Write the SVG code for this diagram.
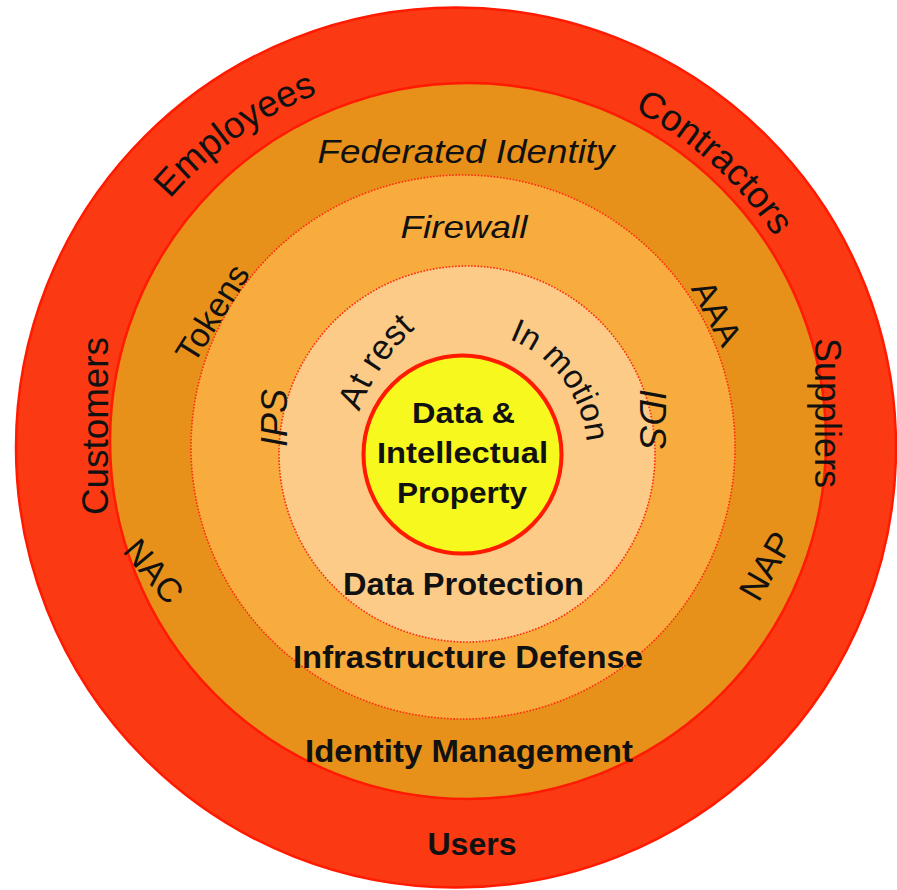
<svg xmlns="http://www.w3.org/2000/svg" width="897" height="890" viewBox="0 0 897 890">
  <style>
    text { font-family: "Liberation Sans", Arial, Helvetica, sans-serif; fill: #111; }
    .b { font-weight: bold; }
    .i { font-style: italic; }
    .solid { stroke: #FF1A00; stroke-width: 2.5; }
    .dotted { stroke: #FF2A10; stroke-width: 1.6; stroke-dasharray: 1.6 1.6; }
  </style>
  <defs>
    <!-- baselines for the curved labels -->
    <path id="arc-employees" d="M 90.1 351.8 A 380 380 0 0 1 487.8 68.2"/>
    <path id="arc-contractors" d="M 471.3 67.2 A 380 380 0 0 1 834.3 394.1"/>
    <path id="arc-atrest" d="M 348.3 464.5 A 200 200 0 0 1 460.1 298.7"/>
    <path id="arc-inmotion" d="M 450.1 331.9 A 122 122 0 0 1 577.3 500.7"/>
  </defs>
  <rect width="897" height="890" fill="#ffffff"/>

  <!-- rings, outermost first -->
  <g id="users">
    <circle cx="456" cy="447.5" r="440" fill="#FB3A13" class="solid"/>
  </g>
  <g id="identity-management">
    <circle cx="468" cy="441" r="358" fill="#E8911A" class="solid"/>
  </g>
  <g id="infrastructure-defense">
    <circle cx="463" cy="447" r="272" fill="#F9AC3E" class="dotted"/>
  </g>
  <g id="data-protection">
    <circle cx="467" cy="454" r="188" fill="#FCCB87" class="dotted"/>
  </g>
  <g id="core">
    <circle cx="462.5" cy="454.5" r="99" fill="#F7F91E" stroke="#FF1A00" stroke-width="4"/>
  </g>

  <!-- labels sit above every ring, since some straddle ring borders -->
  <g id="users-labels">
    <text class="b" x="472" y="855" font-size="32" text-anchor="middle" textLength="89" lengthAdjust="spacingAndGlyphs">Users</text>
    <text font-size="37" text-anchor="middle"><textPath href="#arc-employees" startOffset="50%">Employees</textPath></text>
    <text font-size="37" text-anchor="middle"><textPath href="#arc-contractors" startOffset="50%">Contractors</textPath></text>
    <text font-size="37" text-anchor="middle" transform="translate(108 426) rotate(-90)" textLength="178" lengthAdjust="spacingAndGlyphs">Customers</text>
    <text font-size="37" text-anchor="middle" transform="translate(815 413) rotate(90)" textLength="150" lengthAdjust="spacingAndGlyphs">Suppliers</text>
  </g>

  <g id="identity-management-labels">
    <text class="b" x="469" y="762" font-size="31" text-anchor="middle" textLength="328" lengthAdjust="spacingAndGlyphs">Identity Management</text>
    <text class="i" x="466" y="163" font-size="33" text-anchor="middle" textLength="297" lengthAdjust="spacingAndGlyphs">Federated Identity</text>
    <text font-size="34" text-anchor="middle" transform="translate(212 313) rotate(-58)" y="12">Tokens</text>
    <text font-size="34" text-anchor="middle" transform="translate(717 313) rotate(62)" y="12">AAA</text>
    <text font-size="34" text-anchor="middle" transform="translate(154 571) rotate(50)" y="12">NAC</text>
    <text font-size="35" text-anchor="middle" transform="translate(766 566) rotate(-60)" y="12">NAP</text>
  </g>

  <g id="infrastructure-defense-labels">
    <text class="b" x="468" y="668" font-size="31" text-anchor="middle" textLength="350" lengthAdjust="spacingAndGlyphs">Infrastructure Defense</text>
    <text class="i" x="464" y="238" font-size="32" text-anchor="middle" textLength="127" lengthAdjust="spacingAndGlyphs">Firewall</text>
    <text class="i" font-size="36" text-anchor="middle" transform="translate(274 418) rotate(-90)" y="13">IPS</text>
    <text class="i" font-size="36" text-anchor="middle" transform="translate(653 419) rotate(90)" y="13">IDS</text>
  </g>

  <g id="data-protection-labels">
    <text class="b" x="463.5" y="595" font-size="31" text-anchor="middle" textLength="241" lengthAdjust="spacingAndGlyphs">Data Protection</text>
    <text font-size="35" text-anchor="middle"><textPath href="#arc-atrest" startOffset="50%">At rest</textPath></text>
    <text font-size="33" text-anchor="middle"><textPath href="#arc-inmotion" startOffset="50%">In motion</textPath></text>
  </g>

  <g id="core-labels">
    <text class="b" x="463.5" y="423" font-size="30" text-anchor="middle" textLength="103" lengthAdjust="spacingAndGlyphs">Data &amp;</text>
    <text class="b" x="462.5" y="463" font-size="30" text-anchor="middle" textLength="171" lengthAdjust="spacingAndGlyphs">Intellectual</text>
    <text class="b" x="462" y="503" font-size="30" text-anchor="middle" textLength="130" lengthAdjust="spacingAndGlyphs">Property</text>
  </g>
</svg>
